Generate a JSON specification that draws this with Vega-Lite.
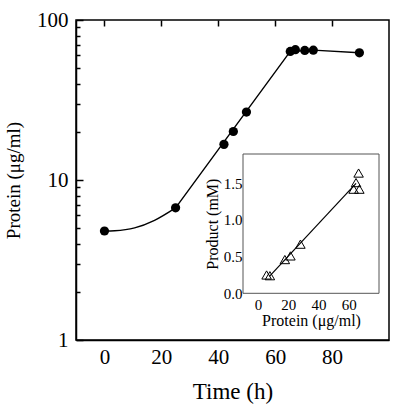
{
  "$schema": "https://vega.github.io/schema/vega-lite/v6.json",
  "width": 313,
  "height": 320,
  "autosize": "none",
  "padding": {"left": 76, "top": 20, "right": 11, "bottom": 75},
  "background": "white",
  "config": {
    "view": {"stroke": "black", "strokeWidth": 1.5},
    "font": "Liberation Serif",
    "axis": {
      "labelFont": "Liberation Serif",
      "titleFont": "Liberation Serif",
      "labelColor": "black",
      "titleColor": "black",
      "titleFontWeight": "normal",
      "grid": false,
      "domainColor": "black",
      "labelOverlap": false,
      "labelFlush": false
    }
  },
  "datasets": {
    "growth": [
      {"time": 0, "protein": 4.8},
      {"time": 25, "protein": 6.7},
      {"time": 42, "protein": 16.7},
      {"time": 45.3, "protein": 20.1},
      {"time": 49.9, "protein": 26.6},
      {"time": 65.3, "protein": 63.6},
      {"time": 67.1, "protein": 65.2},
      {"time": 70.4, "protein": 64.5},
      {"time": 73.4, "protein": 64.8},
      {"time": 89.6, "protein": 62.4}
    ],
    "growthCurve": [
      {"time": 0, "protein": 4.8},
      {"time": 3.6, "protein": 4.82},
      {"time": 10.6, "protein": 5.02},
      {"time": 17.6, "protein": 5.6},
      {"time": 25, "protein": 6.7}
    ],
    "growthLine": [
      {"time": 25, "protein": 6.7},
      {"time": 65.3, "protein": 63.6},
      {"time": 73.4, "protein": 64.8},
      {"time": 89.6, "protein": 62.4}
    ],
    "yield": [
      {"protein": 5.6, "product": 0.25},
      {"protein": 7.8, "product": 0.24},
      {"protein": 17.7, "product": 0.46},
      {"protein": 21.4, "product": 0.51},
      {"protein": 28.0, "product": 0.67},
      {"protein": 63.2, "product": 1.42},
      {"protein": 67.0, "product": 1.42},
      {"protein": 64.8, "product": 1.51},
      {"protein": 66.5, "product": 1.64}
    ],
    "yieldFit": [
      {"protein": 7.5, "product": 0.23},
      {"protein": 64.8, "product": 1.5}
    ]
  },
  "layer": [
    {
      "encoding": {
        "x": {
          "field": "time",
          "type": "quantitative",
          "scale": {"domain": [-10, 100], "nice": false, "zero": false},
          "axis": {
            "orient": "bottom",
            "title": "Time (h)",
            "values": [0, 20, 40, 60, 80],
            "ticks": false,
            "grid": true,
            "gridColor": "black",
            "gridOpacity": 1,
            "gridWidth": 1.5,
            "gridDash": [6, 1000],
            "domainWidth": 1.5,
            "labelFontSize": 21,
            "labelPadding": 6,
            "titleFontSize": 23,
            "titlePadding": 13
          }
        },
        "y": {
          "field": "protein",
          "type": "quantitative",
          "scale": {"type": "log", "domain": [1, 100], "nice": false},
          "axis": {
            "orient": "left",
            "title": "Protein (μg/ml)",
            "values": [1, 2, 3, 4, 5, 6, 7, 8, 9, 10, 20, 30, 40, 50, 60, 70, 80, 90, 100],
            "labelExpr": "datum.value == 1 ? '1' : datum.value == 10 ? '10' : datum.value == 100 ? '100' : ''",
            "ticks": false,
            "grid": true,
            "gridColor": "black",
            "gridOpacity": 1,
            "gridWidth": 1.5,
            "gridDash": {"condition": {"test": "datum.value == 1 || datum.value == 10 || datum.value == 100", "value": [7, 1000]}, "value": [4, 1000]},
            "domainWidth": 1.5,
            "labelFontSize": 21,
            "labelPadding": 8,
            "titleFontSize": 19,
            "titlePadding": 13
          }
        }
      },
      "layer": [
        {
          "data": {"name": "growthCurve"},
          "mark": {"type": "line", "interpolate": "monotone", "color": "black", "strokeWidth": 1.4}
        },
        {
          "data": {"name": "growthLine"},
          "mark": {"type": "line", "color": "black", "strokeWidth": 1.4}
        },
        {
          "data": {"name": "growth"},
          "mark": {"type": "point", "shape": "circle", "filled": true, "color": "black", "opacity": 1, "size": 85}
        }
      ]
    },
    {
      "layer": [
        {
          "data": {"values": [{}]},
          "mark": {"type": "rect", "fill": "white", "stroke": "#555555", "strokeWidth": 1},
          "encoding": {
            "x": {"datum": -10, "type": "quantitative", "scale": {"domain": [-10, 80], "range": [167, 303], "nice": false, "zero": false}, "title": "Protein (μg/ml)"},
            "x2": {"datum": 80},
            "y": {"datum": 0, "type": "quantitative", "scale": {"domain": [0, 1.9], "range": [273.3, 134], "nice": false, "zero": false}, "title": "Product (mM)"},
            "y2": {"datum": 1.9}
          }
        },
        {
          "data": {"name": "yieldFit"},
          "mark": {"type": "line", "color": "black", "strokeWidth": 1.2},
          "encoding": {
            "x": {"field": "protein", "type": "quantitative", "title": "Protein (μg/ml)"},
            "y": {"field": "product", "type": "quantitative", "title": "Product (mM)"}
          }
        },
        {
          "data": {"name": "yield"},
          "mark": {"type": "point", "shape": "triangle-up", "filled": false, "color": "black", "strokeWidth": 1, "opacity": 1, "size": 90},
          "encoding": {
            "x": {
              "field": "protein",
              "type": "quantitative",
              "scale": {"domain": [-10, 80], "range": [167, 303], "nice": false, "zero": false},
              "axis": {
                "orient": "bottom",
                "offset": -46.7,
                "zindex": 2,
                "title": "Protein (μg/ml)",
                "values": [0, 20, 40, 60],
                "domain": false,
                "ticks": false,
                "labelFontSize": 15,
                "labelPadding": 4,
                "titleFontSize": 16,
                "titlePadding": 0
              }
            },
            "y": {
              "field": "product",
              "type": "quantitative",
              "scale": {"domain": [0, 1.9], "range": [273.3, 134], "nice": false, "zero": false},
              "axis": {
                "orient": "left",
                "offset": -167,
                "zindex": 2,
                "title": "Product (mM)",
                "values": [0, 0.5, 1, 1.5],
                "format": ".1f",
                "domain": false,
                "ticks": false,
                "labelFontSize": 15,
                "labelPadding": 1,
                "titleFontSize": 16,
                "titlePadding": 3
              }
            }
          }
        }
      ]
    }
  ],
  "resolve": {
    "scale": {"x": "independent", "y": "independent"},
    "axis": {"x": "independent", "y": "independent"}
  }
}
